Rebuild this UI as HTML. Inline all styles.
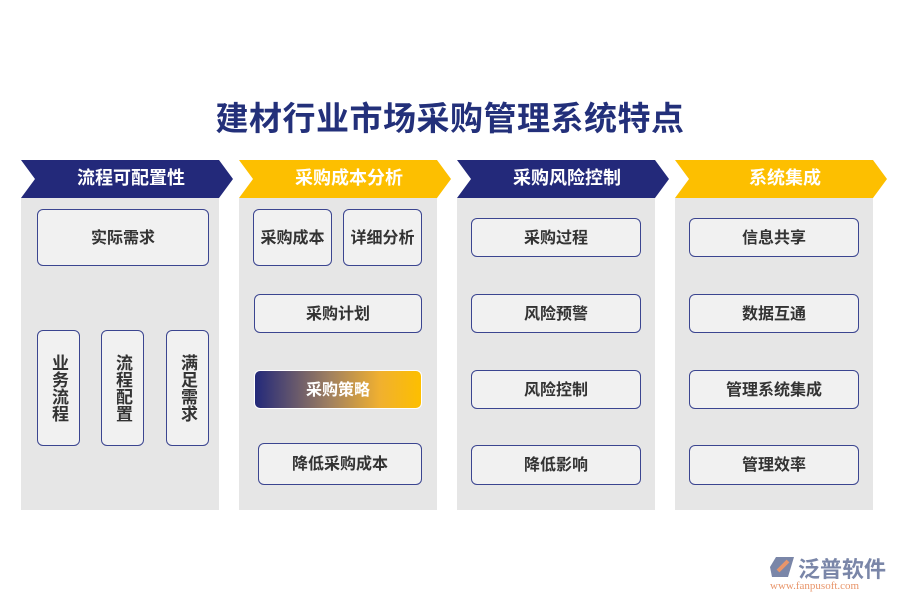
<!DOCTYPE html>
<html><head><meta charset="utf-8"><style>
body{margin:0;width:900px;height:600px;background:#fff;position:relative;overflow:hidden;font-family:"Liberation Sans","Noto Sans CJK SC",sans-serif;}
.a{position:absolute}
.t{left:0;width:900px;top:92px;text-align:center;font-size:33px;font-weight:bold;color:#23307a;letter-spacing:0.5px}
.p{background:#e6e6e6;top:198px;height:312px;width:198px}
.h{top:160px;height:38px;width:212px;color:#fff;font-weight:bold;font-size:18px;line-height:36px;text-align:center;box-sizing:border-box;padding-left:8px;clip-path:polygon(0 0,198px 0,212px 50%,198px 100%,0 100%,14px 50%)}
.n{background:#23297a}.y{background:#fdbf00}
.b{background:#f1f1f1;border:1.5px solid #3b4590;border-radius:6px;box-sizing:border-box;display:flex;align-items:center;justify-content:center;font-weight:bold;font-size:16px;color:#333;padding-bottom:4px}
.v{writing-mode:vertical-rl;letter-spacing:0;font-size:17px;padding-bottom:0;line-height:1}
</style></head><body>
<div class="a t">建材行业市场采购管理系统特点</div>
<div class="a p" style="left:21px"></div><div class="a p" style="left:239px"></div><div class="a p" style="left:457px"></div><div class="a p" style="left:675px"></div>
<div class="a h n" style="left:21px">流程可配置性</div>
<div class="a h y" style="left:239px">采购成本分析</div>
<div class="a h n" style="left:457px">采购风险控制</div>
<div class="a h y" style="left:675px">系统集成</div>

<div class="a b" style="left:37px;top:209px;width:172px;height:57px">实际需求</div>
<div class="a b v" style="left:37px;top:330px;width:43px;height:116px">业务流程</div>
<div class="a b v" style="left:101px;top:330px;width:43px;height:116px">流程配置</div>
<div class="a b v" style="left:166px;top:330px;width:43px;height:116px">满足需求</div>

<div class="a b" style="left:253px;top:209px;width:79px;height:57px">采购成本</div>
<div class="a b" style="left:343px;top:209px;width:79px;height:57px">详细分析</div>
<div class="a b" style="left:254px;top:294px;width:168px;height:39px">采购计划</div>
<div class="a b" style="left:254px;top:370px;width:168px;height:39px;border:1px solid #fff;color:#fff;background:linear-gradient(90deg,#23297a,#a08060 45%,#f0b030 75%,#fdbf00)">采购策略</div>
<div class="a b" style="left:258px;top:443px;width:164px;height:42px">降低采购成本</div>

<div class="a b" style="left:471px;top:218px;width:170px;height:39px">采购过程</div>
<div class="a b" style="left:471px;top:294px;width:170px;height:39px">风险预警</div>
<div class="a b" style="left:471px;top:370px;width:170px;height:39px">风险控制</div>
<div class="a b" style="left:471px;top:445px;width:170px;height:40px">降低影响</div>

<div class="a b" style="left:689px;top:218px;width:170px;height:39px">信息共享</div>
<div class="a b" style="left:689px;top:294px;width:170px;height:39px">数据互通</div>
<div class="a b" style="left:689px;top:370px;width:170px;height:39px">管理系统集成</div>
<div class="a b" style="left:689px;top:445px;width:170px;height:40px">管理效率</div>

<svg class="a" style="left:770px;top:555px" width="26" height="24"><polygon points="6,2 24,2 18,22 2,22 0,12" fill="#7a86a8"/><path d="M8,16 L18,6" stroke="#e8956a" stroke-width="4"/></svg>
<div class="a" style="left:798px;top:552px;font-size:22px;font-weight:bold;color:#7a86a8">泛普软件</div>
<div class="a" style="left:770px;top:580px;font-size:11px;color:#e8956a;font-family:'Liberation Serif',serif">www.fanpusoft.com</div>
</body></html>
